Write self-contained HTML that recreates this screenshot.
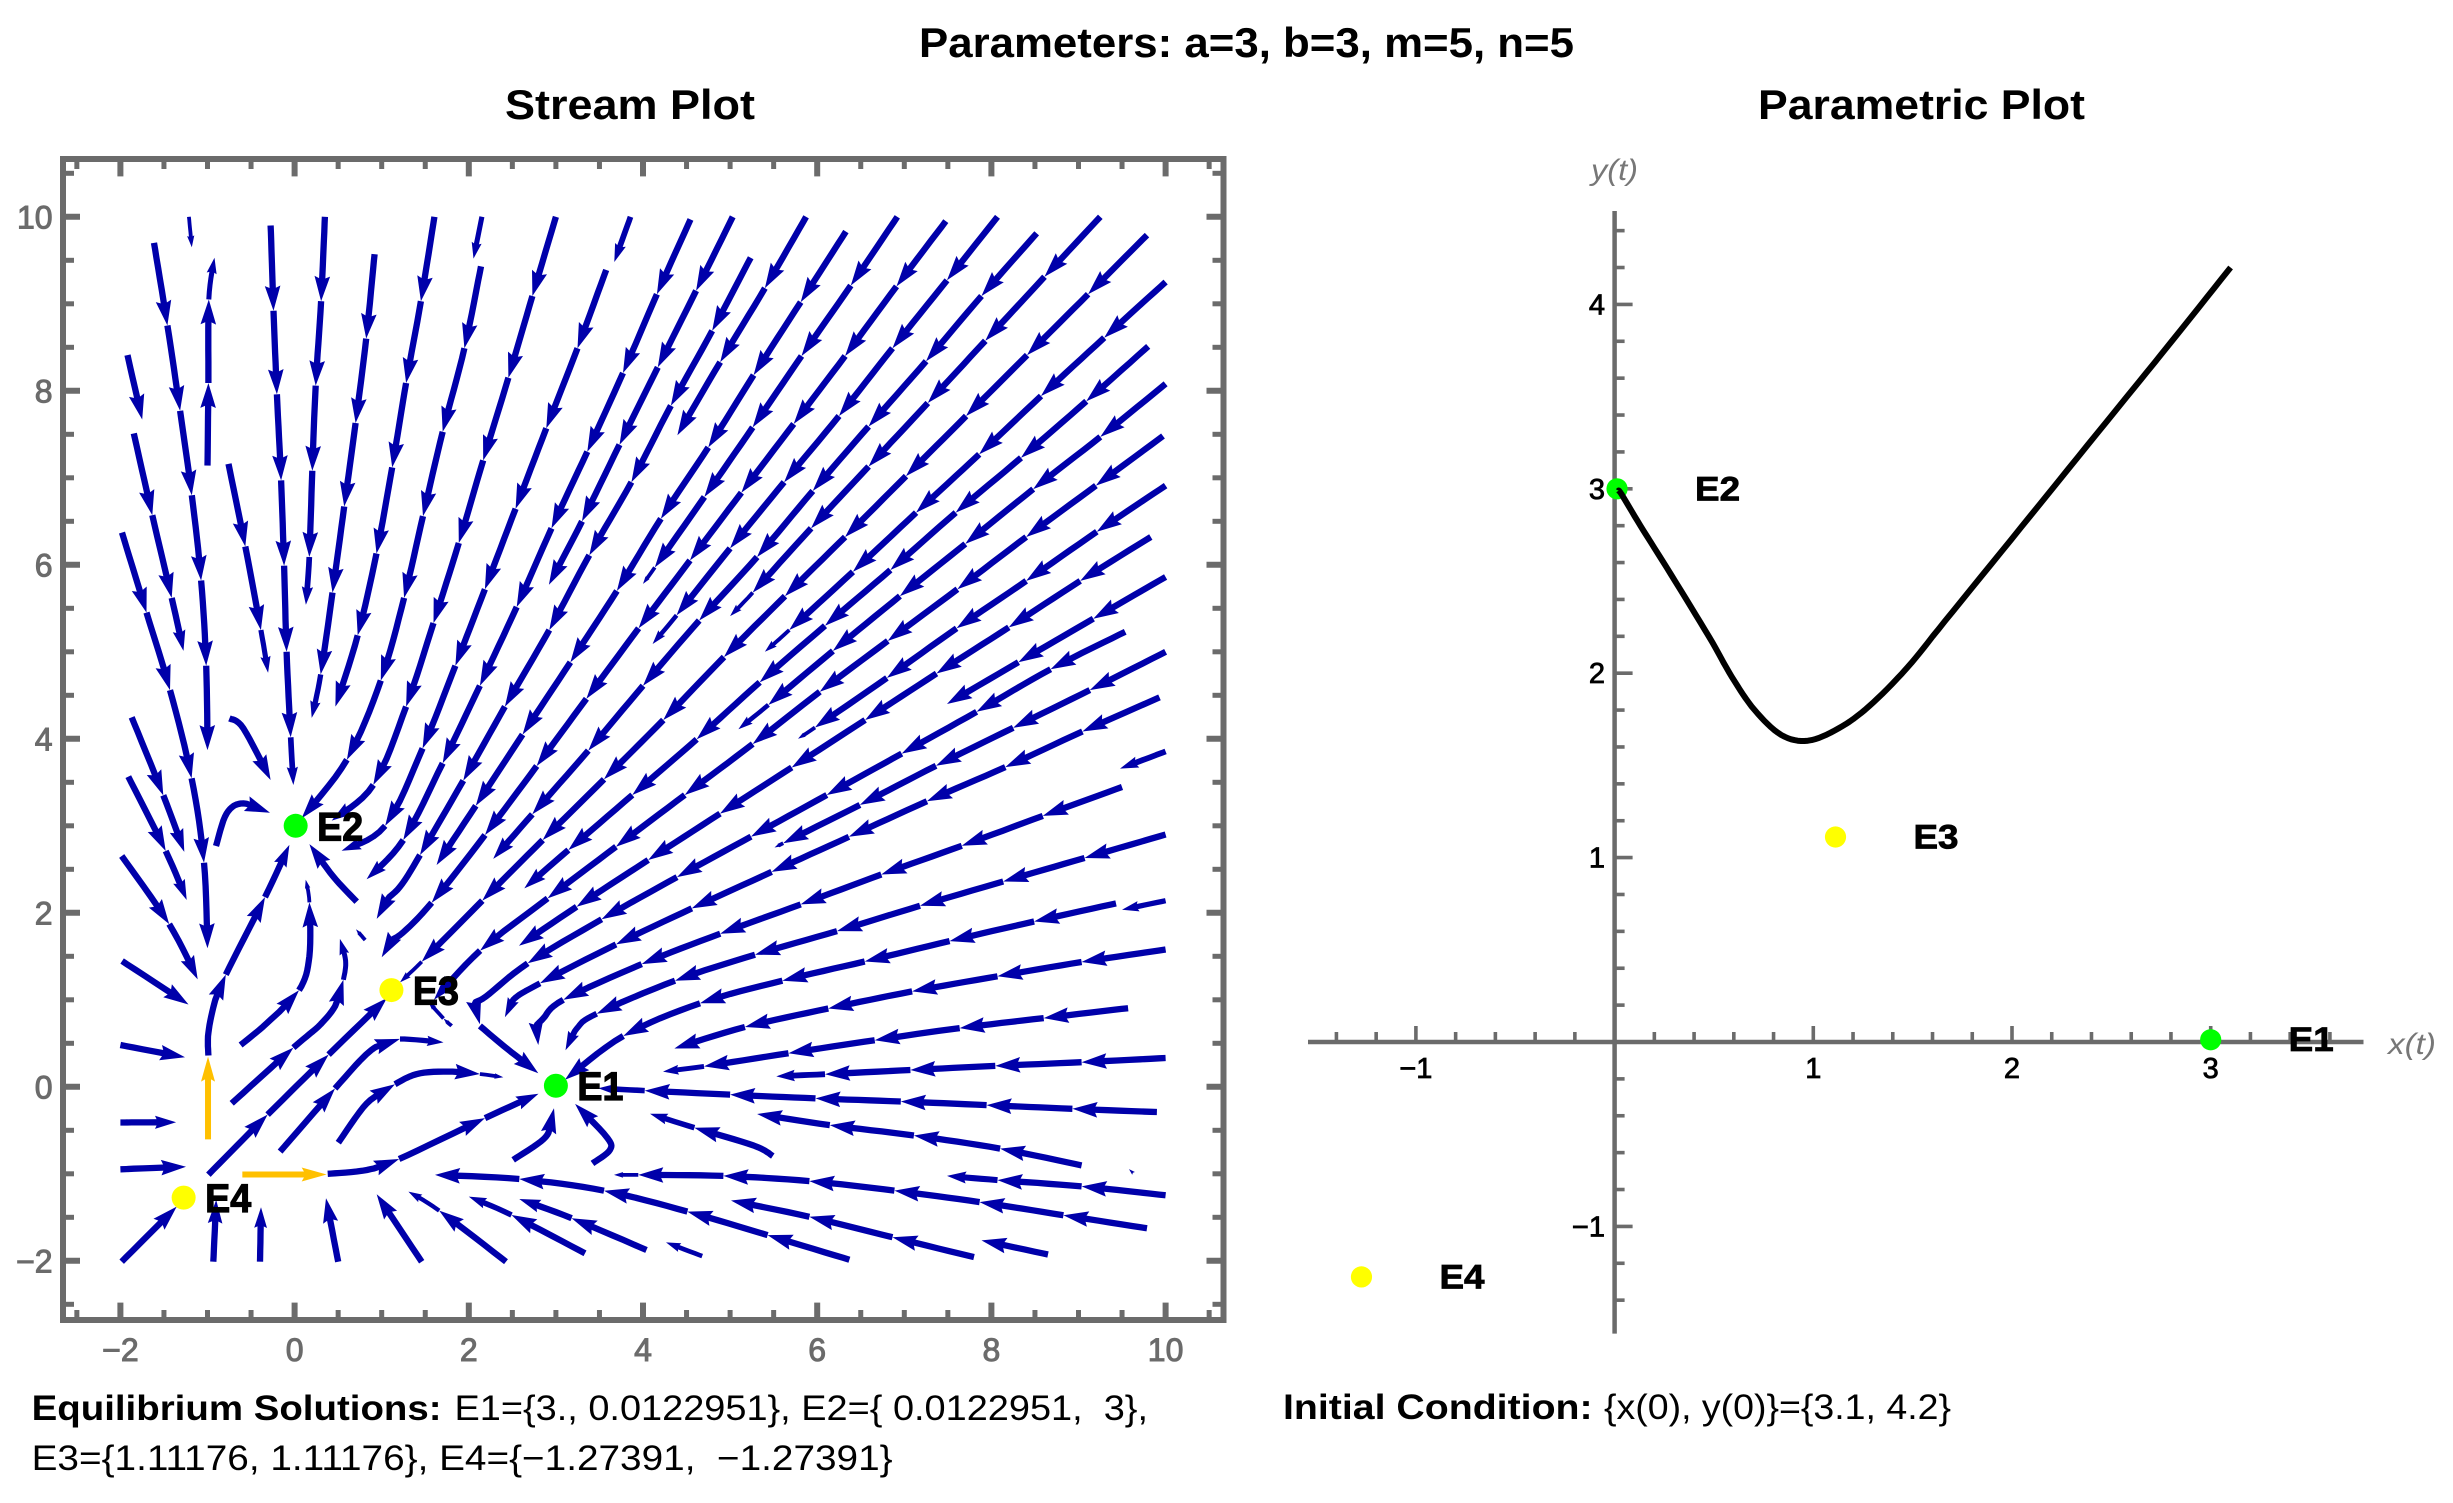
<!DOCTYPE html>
<html lang="en">
<head>
<meta charset="utf-8">
<title>Parameters: a=3, b=3, m=5, n=5</title>
<style>
html,body{margin:0;padding:0;background:#fff;}
svg{display:block;}
text{font-family:"Liberation Sans",sans-serif;}
</style>
</head>
<body>
<svg id="chart" xmlns="http://www.w3.org/2000/svg" width="2453" height="1503" viewBox="0 0 2453 1503">
  <rect x="0" y="0" width="2453" height="1503" fill="#fff"/>
  <text x="919" y="57" font-size="42" font-weight="700" textLength="655" lengthAdjust="spacingAndGlyphs">Parameters: a=3, b=3, m=5, n=5</text>
  <text x="505" y="119" font-size="42" font-weight="700" textLength="250" lengthAdjust="spacingAndGlyphs">Stream Plot</text>
  <text x="1758" y="119" font-size="42" font-weight="700" textLength="327" lengthAdjust="spacingAndGlyphs">Parametric Plot</text>
  <g id="stream-plot"></g>
  <g id="parametric-plot"></g>
  <text x="31.6" y="1420" font-size="35" font-weight="700" textLength="410" lengthAdjust="spacingAndGlyphs">Equilibrium Solutions:</text>
  <text x="454.5" y="1420" font-size="35" textLength="693.5" lengthAdjust="spacingAndGlyphs">E1={3., 0.0122951}, E2={&#160;0.0122951,&#160;&#160;3},</text>
  <text x="31.6" y="1470" font-size="35" textLength="861" lengthAdjust="spacingAndGlyphs">E3={1.11176, 1.11176}, E4={−1.27391,&#160;&#160;−1.27391}</text>
  <text x="1283" y="1419" font-size="35" font-weight="700" textLength="309.6" lengthAdjust="spacingAndGlyphs">Initial Condition:</text>
  <text x="1604" y="1419" font-size="35" textLength="347" lengthAdjust="spacingAndGlyphs">{x(0), y(0)}={3.1, 4.2}</text>
</svg>
<script>
// ---- Equilibria ----
const eqNames = ['E1','E2','E3','E4'];
const eqX = [3, 0.0122951, 1.11176, -1.27391];
const eqY = [0.0122951, 3, 1.11176, -1.27391];
const eqStable = [true, true, false, false];

// ---- Stream plot ticks ----
const streamXMajor = [-2,0,2,4,6,8,10];
const streamYMajor = [-2,0,2,4,6,8,10];
const streamXMinor = [-2.5,-1.5,-1,-0.5,0.5,1,1.5,2.5,3,3.5,4.5,5,5.5,6.5,7,7.5,8.5,9,9.5,10.5];
const streamYMinor = [-2.5,-1.5,-1,-0.5,0.5,1,1.5,2.5,3,3.5,4.5,5,5.5,6.5,7,7.5,8.5,9,9.5,10.5];

// ---- Parametric plot ticks ----
const paramXMajor = [-1,1,2,3];
const paramYMajor = [-1,1,2,3,4];
const paramXMinor = [-1.4,-1.2,-0.8,-0.6,-0.4,-0.2,0.2,0.4,0.6,0.8,1.2,1.4,1.6,1.8,2.2,2.4,2.6,2.8,3.2,3.4,3.6];
const paramYMinor = [-1.4,-1.2,-0.8,-0.6,-0.4,-0.2,0.2,0.4,0.6,0.8,1.2,1.4,1.6,1.8,2.2,2.4,2.6,2.8,3.2,3.4,3.6,3.8,4.2,4.4];

// ---- Parametric trajectory ----
const trajX = [3.1,2.81,2.428,2.045,1.663,1.471,1.28,1.126,0.973,0.839,0.705,0.59,0.475,0.284,0.13,0.035,0.02];
const trajY = [4.2,3.808,3.3,2.79,2.283,2.028,1.82,1.7,1.634,1.665,1.8,1.98,2.198,2.535,2.8,2.97,2.99];

// ---- Highlighted direction arrows ----
const orangeArrowUp = [[-0.994,-0.604],[-0.994,0.347]];
const orangeArrowRight = [[-0.6,-1.008],[0.368,-1.008]];

// ---- Streamlines in data coordinates: each node [x,y] ends an arrow; [x,y,0] is a bend inside an arrow ----
const streamLines = [
[[-1.213,10],[-1.18,9.65]],
[[-1,7.14],[-.99,8.09],[-.985,9.05],[-.92,9.53]],
[[-1.614,9.7],[-1.46,8.75],[-1.315,7.77],[-1.18,6.8],[-1.073,5.82],[-1.015,4.84],[-1,3.87]],
[[-1.919,8.41],[-1.75,7.67]],
[[-1.846,7.51],[-1.634,6.57],[-1.411,5.62],[-1.276,5.01]],
[[-1.982,6.37],[-1.7,5.45],[-1.43,4.56],[-1.182,3.546],[-1.04,2.576],[-1,1.592]],
[[-.759,7.16],[-.566,6.21],[-.387,5.25],[-.304,4.76]],
[[-.275,9.9],[-.242,8.92],[-.203,7.96],[-.155,6.97],[-.121,5.99],[-.092,5],[-.045,4.017],[-.014,3.469]],
[[.348,10],[.304,9.03],[.242,8.06],[.203,7.08],[.169,6.09],[.13,5.54]],
[[.918,9.57],[.822,8.6],[.7,7.63],[.57,6.67],[.435,5.68],[.3,4.74],[.196,4.24]],
[[1.605,10],[1.45,9.03],[1.28,8.09],[1.12,7.12],[.94,6.13],[.725,5.19],[.469,4.37]],
[[2.15,10],[2.054,9.52]],
[[2.14,9.43],[1.95,8.49],[1.7,7.53],[1.474,6.56],[1.257,5.62],[.99,4.67],[.6,3.76],[.081,3.086]],
[[3,10],[2.73,9.09],[2.455,8.15],[2.165,7.2],[1.885,6.25],[1.595,5.33],[1.28,4.37],[.904,3.47],[.426,3.06]],
[[3.857,10],[3.67,9.48]],
[[3.577,9.39],[3.248,8.49],[2.89,7.57],[2.537,6.645],[2.185,5.72],[1.846,4.84],[1.47,3.89],[1.04,3],[.54,2.714]],
[[4.545,9.97],[4.16,9.11],[3.77,8.205],[3.36,7.3],[2.95,6.42],[2.55,5.515],[2.127,4.61],[1.7,3.72],[1.248,2.837],[.827,2.385]],
[[5.03,10],[4.61,9.15],[4.17,8.27],[3.73,7.38],[3.3,6.5],[2.92,5.77]],
[[5.236,9.53],[4.795,8.69],[4.32,7.83],[3.867,6.95],[3.383,6.11],[2.924,5.25],[2.415,4.37],[1.937,3.52],[1.44,2.664],[1.21,2.3,0],[.99,2.09,0],[.943,1.93]],
[[5.873,10],[5.4,9.18],[4.886,8.33],[4.395,7.49]],
[[6.33,9.83],[5.81,9.02],[5.27,8.18],[4.75,7.35],[4.205,6.53],[3.7,5.7],[3.166,4.88],[2.618,4.05],[2.08,3.23],[1.63,2.55]],
[[6.92,10],[6.386,9.21],[5.82,8.4],[5.26,7.58],[4.705,6.78],[4.136,5.97],[4,5.78]],
[[7.477,9.95],[6.91,9.2],[6.32,8.4],[5.73,7.62],[5.13,6.83],[4.54,6.05],[3.95,5.27],[3.35,4.46],[2.78,3.687],[2.186,2.894],[1.574,2.116],[1.21,1.745,0],[1.02,1.66,0],[1,1.49]],
[[8.07,10],[7.49,9.27],[6.864,8.49],[6.25,7.71],[5.62,6.95],[5,6.19],[4.386,5.42],[4.11,5.09]],
[[8.52,9.81],[7.886,9.09],[7.25,8.34],[6.59,7.59],[5.95,6.85],[5.31,6.09],[4.645,5.36],[4,4.61],[3.372,3.864],[2.729,3.132],[2.28,2.62]],
[[9.25,10],[8.61,9.31],[7.93,8.575],[7.27,7.86],[6.59,7.13],[5.93,6.42],[5.26,5.68],[5,5.41]],
[[9.786,9.79],[9.11,9.11],[8.41,8.41],[7.71,7.71],[7.02,7.02],[6.32,6.32],[5.63,5.64],[4.93,4.94],[4.233,4.216],[3.552,3.534],[2.848,2.837],[2.155,2.14],[1.459,1.438],[1.21,1.2]],
[[10,9.25],[9.295,8.61],[8.57,7.94],[7.86,7.27],[7.136,6.6],[6.41,5.92],[5.68,5.25],[5.4,5]],
[[9.8,8.51],[9.09,7.88],[8.34,7.23],[7.59,6.6],[6.84,5.94],[6.09,5.3],[5.34,4.65],[4.616,3.994],[3.877,3.354],[3.143,2.722],[2.637,2.281]],
[[10,8.08],[9.25,7.47],[8.48,6.87],[7.7,6.24],[6.95,5.64],[6.18,5.01],[5.44,4.39],[5.095,4.11]],
[[9.97,7.48],[9.2,6.91],[8.4,6.32],[7.61,5.72],[6.81,5.125],[6.03,4.54],[5.26,3.94],[4.48,3.354],[3.69,2.76],[2.905,2.166],[2.13,1.565],[1.6,1]],
[[10,6.91],[9.21,6.38],[8.4,5.815],[7.6,5.27],[6.8,4.7],[5.975,4.13],[5.78,4]],
[[9.83,6.32],[9.02,5.815],[8.2,5.28],[7.37,4.75],[6.55,4.216],[5.707,3.67],[4.884,3.14],[4.06,2.607],[3.238,2.07],[2.576,1.622]],
[[10,5.86],[9.17,5.38],[8.31,4.88],[7.49,4.4]],
[[9.536,5.23],[8.68,4.8],[7.83,4.31],[6.97,3.83],[6.11,3.354],[5.24,2.876],[4.39,2.41],[3.525,1.925],[2.676,1.419],[2.2,1.04,0],[2.03,.93,0],[2.128,.72]],
[[10,5],[9.13,4.56],[8.25,4.127],[7.364,3.69],[6.49,3.24],[5.61,2.8],[5.51,2.75]],
[[9.93,4.476],[9.045,4.084],[8.16,3.675],[7.26,3.283],[6.364,2.873],[5.477,2.47],[4.56,2.05],[3.69,1.637],[2.817,1.19],[2.51,1,0],[2.415,.8]],
[[10,3.855],[9.477,3.657]],
[[9.5,3.446],[8.59,3.114],[7.66,2.77],[6.736,2.44],[5.81,2.096],[4.886,1.76],[3.985,1.41],[3.085,1],[2.85,.78,0],[2.72,.62,0],[2.798,.48]],
[[10,2.9],[9.07,2.63],[8.136,2.36],[7.18,2.08],[6.227,1.79],[5.286,1.518],[4.367,1.22],[3.468,.84],[3.24,.67,0],[3.11,.42]],
[[9.43,2.108],[8.49,1.9],[7.52,1.675],[6.545,1.44],[5.6,1.22],[4.654,.96],[3.774,.584],[3.104,.08]],
[[10,2.139],[9.5,2.036]],
[[10,1.578],[9.036,1.434],[8.07,1.27],[7.09,1.096],[6.127,.9],[5.17,.687],[4.36,.44]],
[[9.57,.904],[8.6,.79],[7.636,.675],[6.66,.536],[5.67,.386],[4.7,.235],[4.23,.175]],
[[10,.331],[9.036,.283],[8.045,.24],[7.07,.193],[6.09,.145],[5.53,.12]],
[[9.9,-.29],[8.93,-.253],[7.945,-.21],[6.96,-.169],[5.98,-.133],[5,-.09],[4.02,-.044],[3.487,-.017]],
[[9.036,-.904],[8.1,-.71],[7.11,-.56],[6.145,-.44],[5.31,-.313]],
[[5.49,-.795],[5.27,-.675,0],[4.59,-.47],[4.08,-.31]],
[[10,-1.247],[9.036,-1.145],[8.07,-1.072],[7.49,-1.024]],
[[9.786,-1.627],[8.827,-1.476],[7.864,-1.325],[6.886,-1.193],[5.91,-1.084],[4.923,-1.024],[3.946,-1.013],[3.667,-1.013]],
[[8.65,-1.928],[7.886,-1.765]],
[[7.8,-1.958],[6.864,-1.729],[5.91,-1.494],[5.01,-1.307]],
[[6.37,-1.988],[5.43,-1.705],[4.51,-1.434],[3.552,-1.194],[2.58,-1.06],[1.612,-1.013]],
[[4.68,-1.946],[4.264,-1.789]],
[[4.04,-1.876],[3.18,-1.51],[2.58,-1.29]],
[[3.334,-1.914],[2.49,-1.473],[2,-1.262]],
[[2.427,-2.01],[1.66,-1.423],[1.306,-1.205]],
[[1.459,-2.01],[.943,-1.236]],
[[.5,-2.01],[.36,-1.28]],
[[-.397,-2.01],[-.386,-1.385]],
[[-.933,-2.01],[-.9,-1.3]],
[[-1.985,-2.01],[-1.354,-1.377]],
[[-2,-.948],[-1.247,-.918]],
[[-2,-.41],[-1.36,-.408]],
[[-2,.48],[-1.258,.339]],
[[-1.98,1.446],[-1.218,.946]],
[[-1.985,2.653],[-1.44,1.87],[-1.113,1.235]],
[[-1.909,3.565],[-1.48,2.71],[-1.239,2.147]],
[[-1.87,4.247],[-1.507,3.35],[-1.266,2.7]],
[[-.749,4.235],[-.588,4.12,0],[-.275,3.526]],
[[-.902,2.768],[-.78,3.143,0],[-.588,3.258,0],[-.282,3.151]],
[[-.99,.36],[-.99,.62,0],[-.91,1,0],[-.79,1.29],[-.34,2.18],[-.06,2.78]],
[[-.62,.48],[-.32,.73,0],[.05,1.11],[.17,1.5,0],[.17,2.12],[.127,2.38]],
[[-.722,-.19],[-.014,.45],[.3,.72,0],[.483,.96,0],[.56,1.23],[.585,1.45,0],[.52,1.7]],
[[-.99,-1.01],[-.31,-.32],[.39,.37],[1.06,1.02]],
[[-.167,-.745],[.464,-.02],[.82,.37,0],[1.02,.5,0],[1.21,.55],[1.71,.51]],
[[.502,-.642],[.83,-.19,0],[1.153,.03],[1.44,.155,0],[1.86,.174,0],[2.128,.147],[2.396,.109]],
[[.38,-1],[.83,-.956,0],[1.2,-.83],[2.186,-.36],[2.8,-.08]],
[[2.128,.7],[2.4,.47,0],[2.798,.155]],
[[2.51,-.84],[2.86,-.6,0],[2.95,-.42,0],[2.978,-.247]],
[[3.42,-.88],[3.62,-.726,0],[3.58,-.573,0],[3.22,-.197]],
[[.713,2.128],[.445,2.415,0],[.17,2.79]],
[[.81,1.687],[.705,1.81]],
[[1.803,.7],[1.71,.785],[1.535,.98]],
[[9.6,-.965],[9.58,-.946]]
];

const NS = 'http://www.w3.org/2000/svg';
const GREY = '#6b6b6b';
const BLUE = '#0000aa';
const ORANGE = '#ffc000';

// axis functions
function sx(x){ return 294.6 + 87.1 * x; }
function sy(y){ return 1086.8 - 87.0 * y; }
function px(x){ return 1614.6 + 198.7 * x; }
function py(y){ return 1042 - 184.4 * y; }

function mk(parent, tag, geom){
  const el = document.createElementNS(NS, tag);
  for (const k in geom) el.setAttribute(k, geom[k]);
  parent.appendChild(el);
  return el;
}
function label(s){ return String(s).replace('-', '\u2212'); }

function flatten(nodes){
  // Catmull-Rom sampling of a node list in pixel space; returns spans of sampled points
  const spans = [];
  for (let i = 0; i < nodes.length - 1; i++){
    const p0 = nodes[Math.max(0, i - 1)], p1 = nodes[i], p2 = nodes[i + 1], p3 = nodes[Math.min(nodes.length - 1, i + 2)];
    const s = [];
    for (let k = 1; k <= 8; k++){
      const t = k / 8, t2 = t * t, t3 = t2 * t;
      s.push([
        0.5 * (2 * p1[0] + (p2[0] - p0[0]) * t + (2 * p0[0] - 5 * p1[0] + 4 * p2[0] - p3[0]) * t2 + (3 * p1[0] - p0[0] - 3 * p2[0] + p3[0]) * t3),
        0.5 * (2 * p1[1] + (p2[1] - p0[1]) * t + (2 * p0[1] - 5 * p1[1] + 4 * p2[1] - p3[1]) * t2 + (3 * p1[1] - p0[1] - 3 * p2[1] + p3[1]) * t3)
      ]);
    }
    spans.push(s);
  }
  return spans;
}

function headGeometry(pts, scale){
  const tip = pts[pts.length - 1];
  const L = 25 * scale, W = 7.8 * scale;
  let acc = 0, base = pts[0], cut = 0;
  for (let i = pts.length - 1; i > 0; i--){
    const d = Math.hypot(pts[i][0] - pts[i - 1][0], pts[i][1] - pts[i - 1][1]);
    if (acc + d >= L){
      const f = (L - acc) / d;
      base = [pts[i][0] + (pts[i - 1][0] - pts[i][0]) * f, pts[i][1] + (pts[i - 1][1] - pts[i][1]) * f];
      cut = i;
      break;
    }
    acc += d;
  }
  let dx = tip[0] - base[0], dy = tip[1] - base[1];
  const n = Math.hypot(dx, dy) || 1;
  dx /= n; dy /= n;
  const bx = tip[0] - dx * L, by = tip[1] - dy * L;
  const nx = tip[0] - dx * L * 0.86, ny = tip[1] - dy * L * 0.86;
  const poly = [tip, [bx - dy * W, by + dx * W], [nx, ny], [bx + dy * W, by - dx * W]];
  return { poly: poly, shaftEnd: [nx + dx, ny + dy], cut: cut };
}

function drawArrow(parent, pts){
  let len = 0;
  for (let i = 1; i < pts.length; i++) len += Math.hypot(pts[i][0] - pts[i - 1][0], pts[i][1] - pts[i - 1][1]);
  const scale = Math.max(0.25, Math.min(1, len / 66));
  const head = headGeometry(pts, scale);
  if (head.cut > 0){
    const kept = pts.slice(0, head.cut).concat([head.shaftEnd]);
    const d = kept.map(function(p, i){ return (i ? 'L' : 'M') + p[0].toFixed(1) + ' ' + p[1].toFixed(1); }).join('');
    const shaft = mk(parent, 'path', { d: d, fill: 'none', stroke: BLUE, 'stroke-width': Math.max(3.8, 6.3 * Math.min(1, scale * 1.25)), 'stroke-linejoin': 'round' });
    
    
  }
  const tri = mk(parent, 'polygon', { points: head.poly.map(function(p){ return p[0].toFixed(1) + ',' + p[1].toFixed(1); }).join(' '), fill: BLUE });
  
  
}

function drawStream(parent, line){
  const nodes = line.map(function(n){ return [sx(n[0]), sy(n[1])]; });
  const spans = flatten(nodes);
  let cur = [nodes[0]];
  for (let i = 0; i < spans.length; i++){
    cur = cur.concat(spans[i]);
    const isLast = i === spans.length - 1;
    if (line[i + 1].length === 2 || isLast){
      drawArrow(parent, cur);
      cur = [nodes[i + 1]];
    }
  }
}

function drawOrange(parent, seg, name){
  const x0 = sx(seg[0][0]), y0 = sy(seg[0][1]), x1 = sx(seg[1][0]), y1 = sy(seg[1][1]);
  const n = Math.hypot(x1 - x0, y1 - y0), dx = (x1 - x0) / n, dy = (y1 - y0) / n;
  const L = 25, W = 7;
  const shaft = mk(parent, 'line', { x1: x0, y1: y0, x2: x1 - dx * L * 0.8, y2: y1 - dy * L * 0.8, stroke: ORANGE, 'stroke-width': 6 });
  
  
  const bx = x1 - dx * L, by = y1 - dy * L, nx = x1 - dx * L * 0.84, ny = y1 - dy * L * 0.84;
  const pts = [[x1, y1], [bx - dy * W, by + dx * W], [nx, ny], [bx + dy * W, by - dx * W]];
  const head = mk(parent, 'polygon', { points: pts.map(function(p){ return p[0] + ',' + p[1]; }).join(' '), fill: ORANGE });
  
  
}

// ---------- Stream plot ----------
const sg = document.getElementById('stream-plot');
const FL = 63, FR = 1223.5, FT = 159, FB = 1320;

streamXMajor.forEach(function(v){
  const x = sx(v);
  [[FB, FB - 17.4], [FT, FT + 17.4]].forEach(function(e){
    const t = mk(sg, 'line', { x1: x, x2: x, y1: e[0], y2: e[1], stroke: GREY, 'stroke-width': 6 });
    
    
  });
  const l = mk(sg, 'text', { x: x, y: 1361, 'font-size': 32, 'text-anchor': 'middle', fill: GREY, stroke: GREY, 'stroke-width': 1 });
  l.textContent = label(v);
  
  
});
streamXMinor.forEach(function(v){
  const x = sx(v);
  [[FB, FB - 10], [FT, FT + 10]].forEach(function(e){
    const t = mk(sg, 'line', { x1: x, x2: x, y1: e[0], y2: e[1], stroke: GREY, 'stroke-width': 5 });
    
    
  });
});
streamYMajor.forEach(function(v){
  const y = sy(v);
  [[FL, FL + 17], [FR, FR - 17]].forEach(function(e){
    const t = mk(sg, 'line', { x1: e[0], x2: e[1], y1: y, y2: y, stroke: GREY, 'stroke-width': 6 });
    
    
  });
  const l = mk(sg, 'text', { x: 52.6, y: y + 11.5, 'font-size': 32, 'text-anchor': 'end', fill: GREY, stroke: GREY, 'stroke-width': 1 });
  l.textContent = label(v);
  
  
});
streamYMinor.forEach(function(v){
  const y = sy(v);
  [[FL, FL + 11], [FR, FR - 11]].forEach(function(e){
    const t = mk(sg, 'line', { x1: e[0], x2: e[1], y1: y, y2: y, stroke: GREY, 'stroke-width': 5 });
    
    
  });
});
const frame = mk(sg, 'rect', { x: FL, y: FT, width: FR - FL, height: FB - FT, fill: 'none', stroke: GREY, 'stroke-width': 6 });



streamLines.forEach(function(line){ drawStream(sg, line); });
drawOrange(sg, orangeArrowUp, 'orange-arrow-up');
drawOrange(sg, orangeArrowRight, 'orange-arrow-right');

eqNames.forEach(function(name, i){
  const c = mk(sg, 'circle', { cx: sx(eqX[i]), cy: sy(eqY[i]), r: 12, fill: eqStable[i] ? '#00ff00' : '#ffff00' });
  
  
  const t = mk(sg, 'text', { x: sx(eqX[i]) + 21.5, y: sy(eqY[i]) + 14.5, 'font-size': 40, 'font-weight': 700, fill: '#000', stroke: '#000', 'stroke-width': 1.2, textLength: 46, lengthAdjust: 'spacingAndGlyphs' });
  t.textContent = name;
  
  
});

// ---------- Parametric plot ----------
const pg = document.getElementById('parametric-plot');
paramXMinor.forEach(function(v){
  const t = mk(pg, 'line', { x1: px(v), x2: px(v), y1: py(0), y2: py(0) - 10, stroke: GREY, 'stroke-width': 3.6 });
  
  
});
paramYMinor.forEach(function(v){
  const t = mk(pg, 'line', { x1: px(0), x2: px(0) + 10, y1: py(v), y2: py(v), stroke: GREY, 'stroke-width': 3.6 });
  
  
});
paramXMajor.forEach(function(v){
  const t = mk(pg, 'line', { x1: px(v), x2: px(v), y1: py(0), y2: py(0) - 16, stroke: GREY, 'stroke-width': 3.6 });
  
  
  const l = mk(pg, 'text', { x: px(v), y: 1078, 'font-size': 29, 'text-anchor': 'middle', fill: '#000', stroke: '#000', 'stroke-width': 0.8 });
  l.textContent = label(v);
  
  
});
paramYMajor.forEach(function(v){
  const t = mk(pg, 'line', { x1: px(0), x2: px(0) + 18, y1: py(v), y2: py(v), stroke: GREY, 'stroke-width': 3.6 });
  
  
  const l = mk(pg, 'text', { x: 1605, y: py(v) + 10, 'font-size': 29, 'text-anchor': 'end', fill: '#000', stroke: '#000', 'stroke-width': 0.8 });
  l.textContent = label(v);
  
  
});
const xAxis = mk(pg, 'line', { x1: 1308, x2: 2363.5, y1: py(0), y2: py(0), stroke: GREY, 'stroke-width': 4.5 });


const yAxis = mk(pg, 'line', { x1: px(0), x2: px(0), y1: 211, y2: 1333.6, stroke: GREY, 'stroke-width': 4.5 });



const xTitle = mk(pg, 'text', { x: 2388, y: 1054, 'font-size': 30, 'font-style': 'italic', fill: '#777', textLength: 48, lengthAdjust: 'spacingAndGlyphs' });
xTitle.textContent = 'x(t)';


const yTitle = mk(pg, 'text', { x: 1591, y: 180, 'font-size': 30, 'font-style': 'italic', fill: '#777', textLength: 47, lengthAdjust: 'spacingAndGlyphs' });
yTitle.textContent = 'y(t)';



eqNames.forEach(function(name, i){
  const c = mk(pg, 'ellipse', { cx: px(eqX[i]), cy: py(eqY[i]), rx: 10.6, ry: 10.6, fill: eqStable[i] ? '#00ff00' : '#ffff00' });
  
  
});

const trajNodes = trajX.map(function(x, i){ return [px(x), py(trajY[i])]; });
const trajPts = [trajNodes[0]];
flatten(trajNodes).forEach(function(s){ s.forEach(function(p){ trajPts.push(p); }); });
const traj = mk(pg, 'path', { d: trajPts.map(function(p, i){ return (i ? 'L' : 'M') + p[0].toFixed(1) + ' ' + p[1].toFixed(1); }).join(''), fill: 'none', stroke: '#000', 'stroke-width': 6, 'stroke-linejoin': 'round' });



eqNames.forEach(function(name, i){
  const t = mk(pg, 'text', { x: px(eqX[i]) + 78, y: py(eqY[i]) + 11.5, 'font-size': 34, 'font-weight': 700, fill: '#000', stroke: '#000', 'stroke-width': 0.8, textLength: 45, lengthAdjust: 'spacingAndGlyphs' });
  t.textContent = name;
  
  
});
</script>
</body>
</html>
